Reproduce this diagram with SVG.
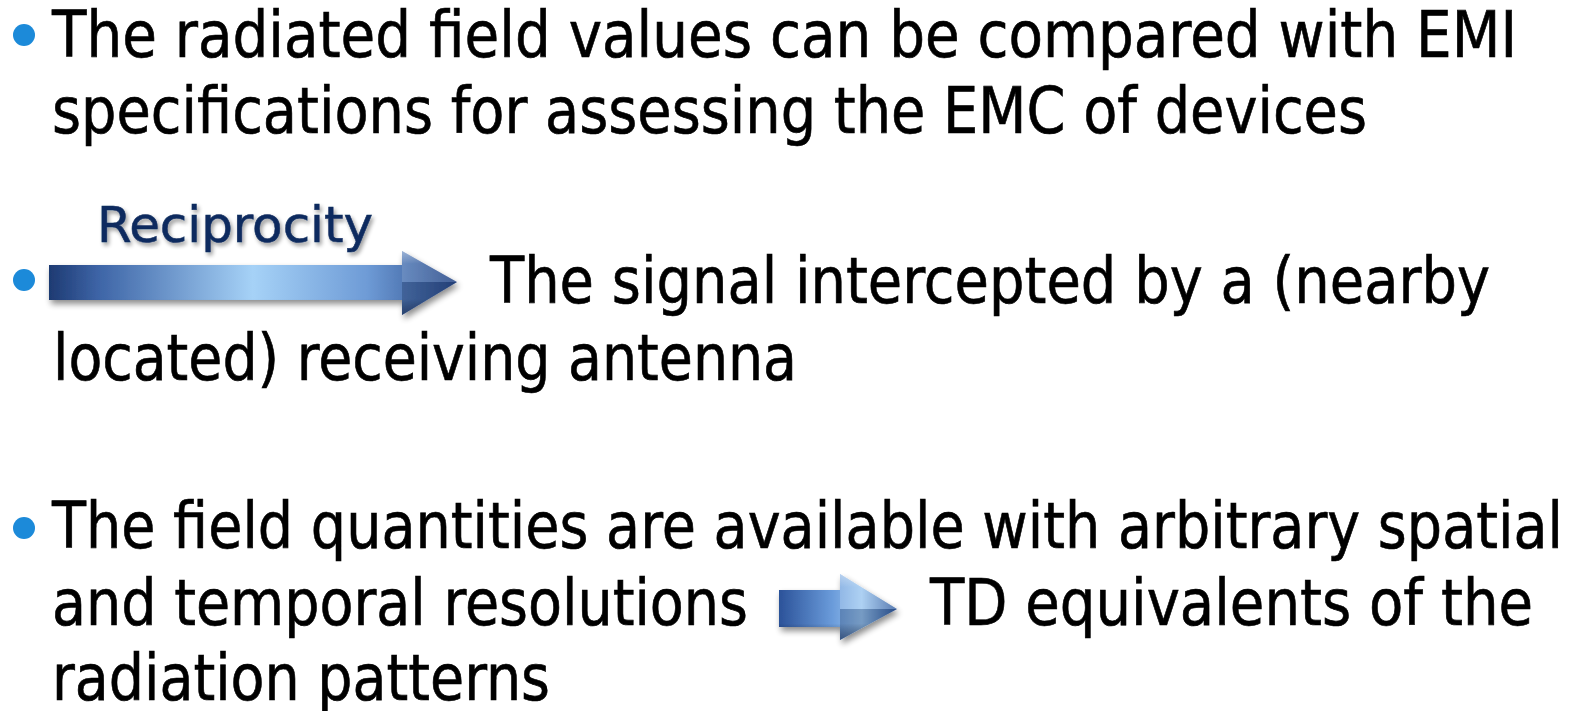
<svg xmlns="http://www.w3.org/2000/svg" width="1581" height="711" viewBox="0 0 1581 711">
<style>
.t{font-family:"DejaVu Sans Condensed","DejaVu Sans",sans-serif;font-size:64px;fill:#000;stroke:#000;stroke-width:0.6px}
.lbl{font-family:"DejaVu Sans Condensed","DejaVu Sans",sans-serif;font-size:50px;fill:#0F2C5E;stroke:#0F2C5E;stroke-width:0.5px}
.bul{fill:#1C8AD9}
</style>
<defs>
<linearGradient id="g1" x1="0" y1="0" x2="1" y2="0">
<stop offset="0" stop-color="#1E3A72"/>
<stop offset="0.12" stop-color="#3D64A6"/>
<stop offset="0.5" stop-color="#A6D2F7"/>
<stop offset="0.78" stop-color="#6E9BD6"/>
<stop offset="1" stop-color="#2A4A88"/>
</linearGradient>
<linearGradient id="g2" x1="0" y1="0" x2="1" y2="0">
<stop offset="0" stop-color="#2B5299"/>
<stop offset="0.45" stop-color="#6A9BDA"/>
<stop offset="0.7" stop-color="#9AC6F0"/>
<stop offset="1" stop-color="#2F5A9E"/>
</linearGradient>
<linearGradient id="bev" x1="0" y1="0" x2="0" y2="1">
<stop offset="0" stop-color="#FFFFFF" stop-opacity="0.35"/>
<stop offset="0.2" stop-color="#FFFFFF" stop-opacity="0"/>
<stop offset="0.75" stop-color="#000000" stop-opacity="0"/>
<stop offset="1" stop-color="#0A1A40" stop-opacity="0.45"/>
</linearGradient>
<filter id="sh" x="-10%" y="-30%" width="120%" height="170%">
<feGaussianBlur in="SourceAlpha" stdDeviation="3"/>
<feOffset dx="2" dy="4" result="b"/>
<feComponentTransfer><feFuncA type="linear" slope="0.45"/></feComponentTransfer>
<feMerge><feMergeNode/><feMergeNode in="SourceGraphic"/></feMerge>
</filter>
<filter id="tsh" x="-10%" y="-30%" width="120%" height="170%">
<feGaussianBlur in="SourceAlpha" stdDeviation="2"/>
<feOffset dx="2" dy="3"/>
<feComponentTransfer><feFuncA type="linear" slope="0.4"/></feComponentTransfer>
<feMerge><feMergeNode/><feMergeNode in="SourceGraphic"/></feMerge>
</filter>
</defs>
<rect width="1581" height="711" fill="#FFFFFF"/>

<g id="bullet1">
<circle class="bul" cx="24" cy="35" r="11"/>
<text class="t" x="52" y="57" textLength="1465" lengthAdjust="spacingAndGlyphs">The radiated field values can be compared with EMI</text>
<text class="t" x="52" y="133" textLength="1315" lengthAdjust="spacingAndGlyphs">specifications for assessing the EMC of devices</text>
</g>

<g id="reciprocity-label">
<text class="lbl" x="97" y="242" textLength="276" lengthAdjust="spacingAndGlyphs" filter="url(#tsh)">Reciprocity</text>
</g>

<g id="bullet2">
<circle class="bul" cx="24" cy="280" r="11"/>
<text class="t" x="490" y="303" textLength="1000" lengthAdjust="spacingAndGlyphs">The signal intercepted by a (nearby</text>
<text class="t" x="53" y="380" textLength="744" lengthAdjust="spacingAndGlyphs">located) receiving antenna</text>
</g>

<g id="bullet3">
<circle class="bul" cx="24" cy="528" r="11"/>
<text class="t" x="52" y="548" textLength="1511" lengthAdjust="spacingAndGlyphs">The field quantities are available with arbitrary spatial</text>
<text class="t" x="52" y="625" textLength="696" lengthAdjust="spacingAndGlyphs">and temporal resolutions</text>
<text class="t" x="930" y="625" textLength="603" lengthAdjust="spacingAndGlyphs">TD equivalents of the</text>
<text class="t" x="52" y="700" textLength="498" lengthAdjust="spacingAndGlyphs">radiation patterns</text>
</g>

<g id="connectors">
<g filter="url(#sh)">
<path d="M49,265 L402,265 L402,251 L457,282 L402,315 L402,300 L49,300 Z" fill="url(#g1)"/>
<path d="M49,265 L402,265 L402,251 L457,282 L402,315 L402,300 L49,300 Z" fill="url(#bev)"/>
<path d="M402,251 L457,282 L402,282 Z" fill="#FFFFFF" fill-opacity="0.12"/>
<path d="M402,282 L457,282 L402,315 Z" fill="#0A1A40" fill-opacity="0.25"/>
</g>
<g filter="url(#sh)">
<path d="M779,590 L840,590 L840,574 L897,609 L840,640 L840,627 L779,627 Z" fill="url(#g2)"/>
<path d="M779,590 L840,590 L840,574 L897,609 L840,640 L840,627 L779,627 Z" fill="url(#bev)"/>
<path d="M840,574 L897,609 L840,609 Z" fill="#FFFFFF" fill-opacity="0.2"/>
<path d="M840,609 L897,609 L840,640 Z" fill="#0A1A40" fill-opacity="0.25"/>
</g>
</g>
</svg>
